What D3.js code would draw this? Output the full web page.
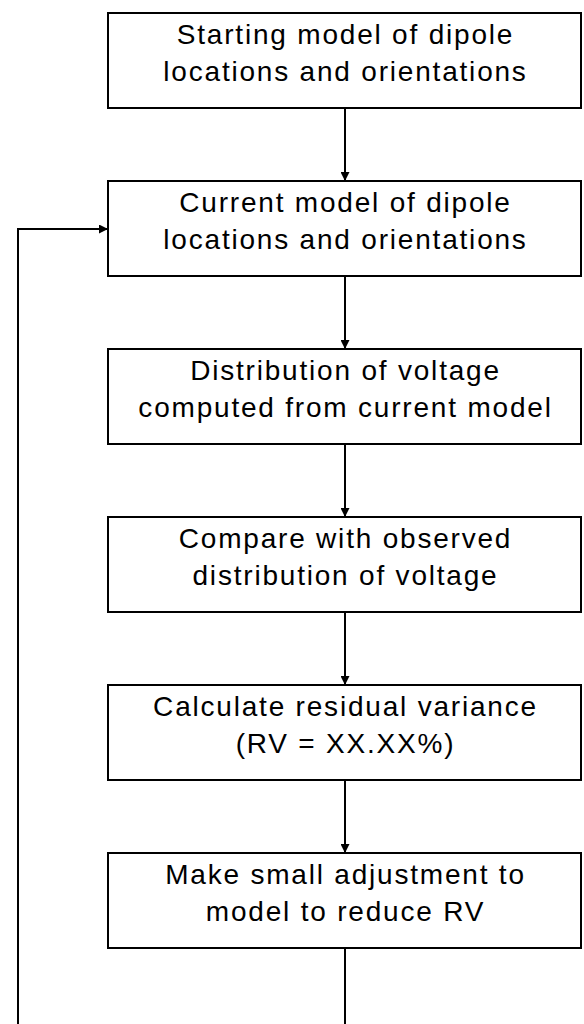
<!DOCTYPE html>
<meta charset="utf-8">
<script src="https://d3js.org/d3.v7.min.js"></script>
<style>
  body { margin: 0; background: #fff; }
</style>
<div id="chart"></div>
<script>
  // flowchart steps (two lines of text per box)
  var line1 = [
    "Starting model of dipole",
    "Current model of dipole",
    "Distribution of voltage",
    "Compare with observed",
    "Calculate residual variance",
    "Make small adjustment to"
  ];
  var line2 = [
    "locations and orientations",
    "locations and orientations",
    "computed from current model",
    "distribution of voltage",
    "(RV = XX.XX%)",
    "model to reduce RV"
  ];
  var steps = d3.range(line1.length);

  var width = 584, height = 1024;
  var boxLeft = 108, boxRight = 581, boxH = 95;
  var midX = 345, loopX = 18, loopTarget = 1; // loop goes back to step 2

  var svg = d3.select("#chart").append("svg")
    .attr("width", width)
    .attr("height", height);

  var y = d3.scaleLinear().domain([0, steps.length - 1]).range([13, 853]);

  svg.append("defs").append("marker")
    .attr("id", "arrow")
    .attr("viewBox", "0 0 10 10")
    .attr("refX", 10).attr("refY", 5)
    .attr("markerWidth", 9).attr("markerHeight", 9)
    .attr("markerUnits", "userSpaceOnUse")
    .attr("orient", "auto")
    .append("path")
    .attr("d", "M0,0L10,5L0,10Z")
    .attr("fill", "#000");

  // connectors between boxes
  svg.selectAll(".link")
    .data(steps.slice(0, -1))
    .enter().append("line")
    .attr("x1", midX).attr("x2", midX)
    .attr("y1", function (d) { return y(d) + boxH; })
    .attr("y2", function (d) { return y(d + 1); })
    .attr("stroke", "#000").attr("stroke-width", 2)
    .attr("marker-end", "url(#arrow)");

  // line out of the last box, and the loop back
  svg.append("line")
    .attr("x1", midX).attr("x2", midX)
    .attr("y1", y(steps.length - 1) + boxH).attr("y2", height)
    .attr("stroke", "#000").attr("stroke-width", 2);

  var loopY = y(loopTarget) + 48;
  svg.append("path")
    .attr("d", "M" + loopX + "," + height + "V" + loopY + "H" + boxLeft)
    .attr("fill", "none")
    .attr("stroke", "#000").attr("stroke-width", 2)
    .attr("marker-end", "url(#arrow)");

  // boxes
  var box = svg.selectAll(".box")
    .data(steps)
    .enter().append("g")
    .attr("transform", function (d) { return "translate(0," + y(d) + ")"; });

  box.append("rect")
    .attr("x", boxLeft).attr("y", 0)
    .attr("width", boxRight - boxLeft).attr("height", boxH)
    .attr("fill", "#fff")
    .attr("stroke", "#000").attr("stroke-width", 2);

  var cx = (boxLeft + boxRight) / 2 + 1;
  [[line1, 31], [line2, 68]].forEach(function (l) {
    box.append("text")
      .attr("x", cx).attr("y", l[1])
      .attr("text-anchor", "middle")
      .style("font-family", "'Liberation Sans', Arial, sans-serif")
      .style("font-size", "28px")
      .style("letter-spacing", "1.8px")
      .text(function (d) { return l[0][d]; });
  });
</script>
